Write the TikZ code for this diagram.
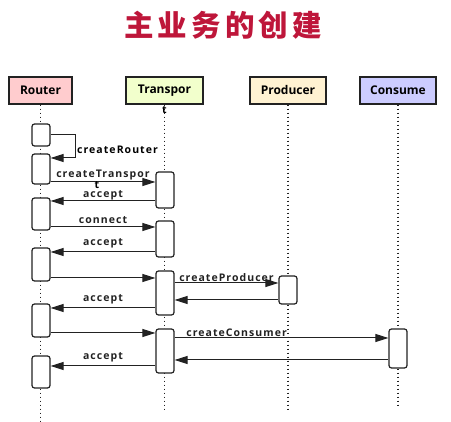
\documentclass[tikz,border=0pt]{standalone}
\usepackage{fontspec}
\setmainfont{Open Sans}
\newfontfamily\cjk{Noto Sans CJK SC}
\usetikzlibrary{arrows.meta}
\definecolor{titlered}{RGB}{190,22,58}
\definecolor{ink}{RGB}{34,34,34}
\begin{document}
\begin{tikzpicture}[x=1pt,y=-1pt,
		head/.style={draw=ink,line width=1.3pt,minimum height=27,inner sep=0pt,font=\bfseries\fontsize{12}{14}\selectfont},
		act/.style={draw=ink,line width=1.2pt,fill=white,rounded corners=2.5pt,minimum width=18,inner sep=0pt},
		life/.style={ink,line width=1.3pt,dash pattern=on 1.4pt off 2.6pt},
		msg/.style={ink,line width=1pt,-{Triangle[length=13pt,width=8pt]}},
		lbl/.style={font=\bfseries\fontsize{10.5}{12}\selectfont\addfontfeature{LetterSpace=10},inner sep=1pt}]
		\useasboundingbox (0,0) rectangle (451,422);
		\node[font=\cjk\bfseries\fontsize{29.5}{31}\selectfont,text=titlered] (title) at (223,25) {\addfontfeature{LetterSpace=14}主业务的创建};
		% lifeline heads
		\node[head,fill={rgb,255:red,255;green,204;blue,206},minimum width=63] (router) at (40.5,90.5) {Router};
		\node[head,fill={rgb,255:red,242;green,255;blue,204},minimum width=77] (transpor) at (164.5,90.5) {Transpor};
		\node[head,fill={rgb,255:red,255;green,242;blue,210},minimum width=76] (producer) at (288,90.5) {Producer};
		\node[head,fill={rgb,255:red,204;green,204;blue,255},minimum width=76] (consume) at (398,90.5) {Consume};
		\draw[life] (router.south) -- (router.south |- 0,422);
		\draw[life] (transpor.south) -- (transpor.south |- 0,412);
		\draw[life] (producer.south) -- (producer.south |- 0,412);
		\draw[life] (consume.south) -- (consume.south |- 0,405);
		\node[lbl] (tail) at (164.5,110) {t};
		% activations
		\node[act,minimum height=22] (r1) at (41,135) {};
		\node[act,minimum height=30] (r2) at (41,169) {};
		\node[act,minimum height=32] (r3) at (41,214) {};
		\node[act,minimum height=33] (r4) at (41,264.5) {};
		\node[act,minimum height=33] (r5) at (41,320.5) {};
		\node[act,minimum height=32] (r6) at (41,372) {};
		\node[act,minimum height=36] (t1) at (165,190) {};
		\node[act,minimum height=36] (t2) at (165,239) {};
		\node[act,minimum height=44] (t3) at (165,293) {};
		\node[act,minimum height=44] (t4) at (165,351) {};
		\node[act,minimum height=28] (p1) at (288,290) {};
		\node[act,minimum height=39] (c1) at (398,348.5) {};
		% messages
		\draw[msg] (r1.east) -- ++(25,0) |- (r2.east |- 0,158);
		\node[lbl,anchor=west] (l1) at (76,150) {createRouter};
		\draw[msg] (r2.east |- 0,182) -- node[lbl,above] (l2) {createTranspor} (t1.west |- 0,182);
		\node[lbl] (l2b) at (97,185.5) {t};
		\draw[msg] (t1.west |- 0,201) -- node[lbl,above=-1pt] (l3) {accept} (r3.east |- 0,201);
		\draw[msg] (r3.east |- 0,227) -- node[lbl,above=2pt] (l4) {connect} (t2.west |- 0,227);
		\draw[msg] (t2.west |- 0,252) -- node[lbl,above=2pt] (l5) {accept} (r4.east |- 0,252);
		\draw[msg] (r4.east |- 0,278) -- (t3.west |- 0,278);
		\draw[msg] (t3.east |- 0,283) -- node[lbl,above] (l6) {createProducer} (p1.west |- 0,283);
		\draw[msg] (p1.west |- 0,300) -- (t3.east |- 0,300);
		\draw[msg] (t3.west |- 0,308) -- node[lbl,above=2pt] (l7) {accept} (r5.east |- 0,308);
		\draw[msg] (r5.east |- 0,333) -- (t4.west |- 0,333);
		\draw[msg] (t4.east |- 0,338) -- node[lbl,above,pos=0.29] (l8) {createConsumer} (c1.west |- 0,338);
		\draw[msg] (c1.west |- 0,360) -- (t4.east |- 0,360);
		\draw[msg] (t4.west |- 0,366) -- node[lbl,above=2pt] (l9) {accept} (r6.east |- 0,366);
	\end{tikzpicture}
\end{document}
